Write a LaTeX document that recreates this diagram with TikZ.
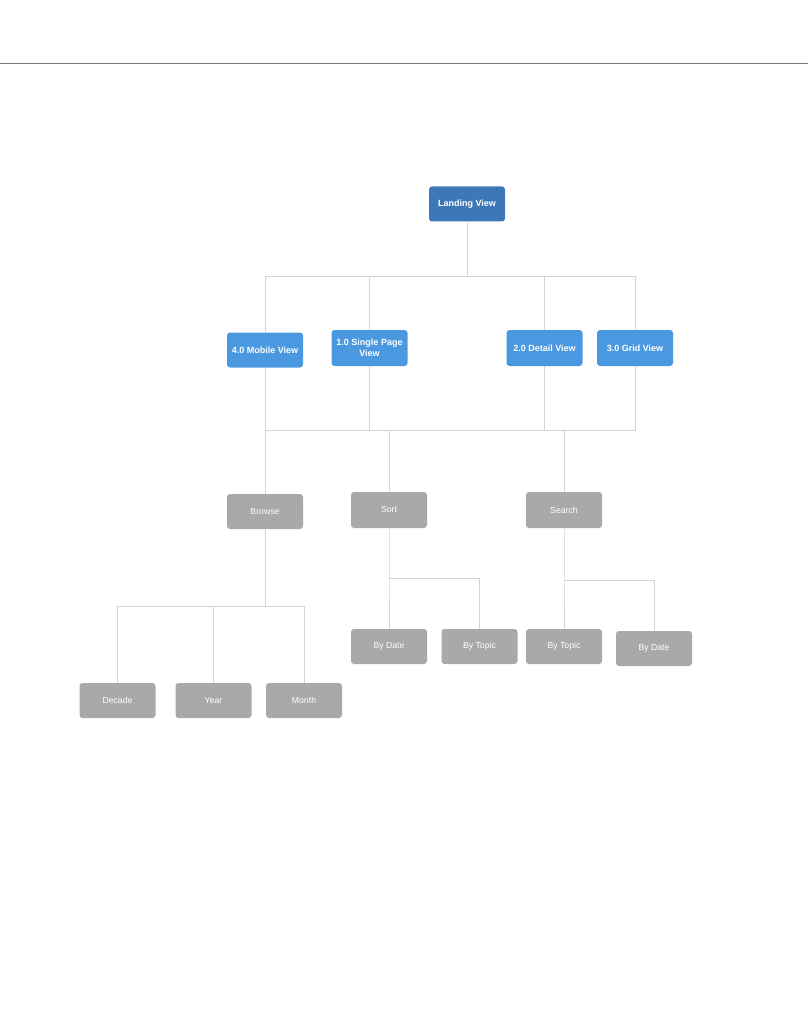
\documentclass[tikz,border=0pt]{standalone}
\usepackage{fontspec}
\setmainfont{Liberation Sans}
\usetikzlibrary{calc,positioning}

\definecolor{landblue}{HTML}{3D77B7}
\definecolor{viewblue}{HTML}{4A98E0}
\definecolor{boxgray}{HTML}{A9A9A9}
\definecolor{linkgray}{HTML}{D4D4D4}
\definecolor{rulegray}{HTML}{7A7A7A}

\begin{document}
\begin{tikzpicture}[x=1pt, y=-1pt,
    view/.style={rectangle, rounded corners=3pt, fill=viewblue, text=white,
        minimum width=76pt, minimum height=35pt, inner sep=0pt, align=center,
        font=\fontsize{9}{11.5}\selectfont\bfseries},
    landing/.style={view, fill=landblue},
    topic/.style={rectangle, rounded corners=3pt, fill=boxgray, text=white,
        minimum width=76pt, minimum height=35pt, inner sep=0pt,
        font=\fontsize{8.7}{10}\selectfont},
    link/.style={draw=linkgray, line width=0.8pt}]
    \useasboundingbox (0,0) rectangle (808,1024);

    % page rule
    \coordinate (ruleL) at (0,63);
    \coordinate (ruleR) at (808,63);
    \draw [rulegray, line width=0.9pt] (ruleL) -- (ruleR);

    \node (land) [landing] at (467,204) {Landing View};

    \node (mobile) [view] at (265,350) {4.0 Mobile View};
    \node (single) [view, minimum height=36pt] at (369.5,348) {1.0 Single Page\\View};
    \node (detail) [view, minimum height=36pt] at (544.5,348) {2.0 Detail View};
    \node (grid) [view, minimum height=36pt] at (635,348) {3.0 Grid View};

    \node (browse) [topic] at (265,511.5) {Browse};
    \node (sort) [topic, minimum height=36pt] at (389,510) {Sort};
    \node (search) [topic, minimum height=36pt] at (564,510) {Search};

    \node (sdate) [topic] at (389,646.5) {By Date};
    \node (stopic) [topic] at (479.5,646.5) {By Topic};
    \node (qtopic) [topic] at (564,646.5) {By Topic};
    \node (qdate) [topic] at (654,648.5) {By Date};

    \node (decade) [topic] at (117.5,700.5) {Decade};
    \node (year) [topic] at (213.5,700.5) {Year};
    \node (month) [topic] at (304,700.5) {Month};

    % Create edge connections
    \coordinate (top) at (467,276);
    \draw [link] (land) -- (top);
    \draw [link] (top) -| (mobile);
    \draw [link] (top) -| (single);
    \draw [link] (top) -| (detail);
    \draw [link] (top) -| (grid);

    \coordinate (hub) at (389,430);
    \draw [link] (mobile) |- (hub);
    \draw [link] (single) |- (hub);
    \draw [link] (detail) |- (hub);
    \draw [link] (grid) |- (hub);
    \draw [link] (hub) -| (browse);
    \draw [link] (hub) -- (sort);
    \draw [link] (hub) -| (search);

    \coordinate (sortj) at (389,578);
    \draw [link] (sort) -- (sortj) -- (sdate);
    \draw [link] (sortj) -| (stopic);

    \coordinate (searchj) at (564,580);
    \draw [link] (search) -- (searchj) -- (qtopic);
    \draw [link] (searchj) -| (qdate);

    \coordinate (browsej) at (265,606);
    \draw [link] (browse) -- (browsej);
    \draw [link] (browsej) -| (decade);
    \draw [link] (browsej) -| (year);
    \draw [link] (browsej) -| (month);
\end{tikzpicture}
\end{document}
